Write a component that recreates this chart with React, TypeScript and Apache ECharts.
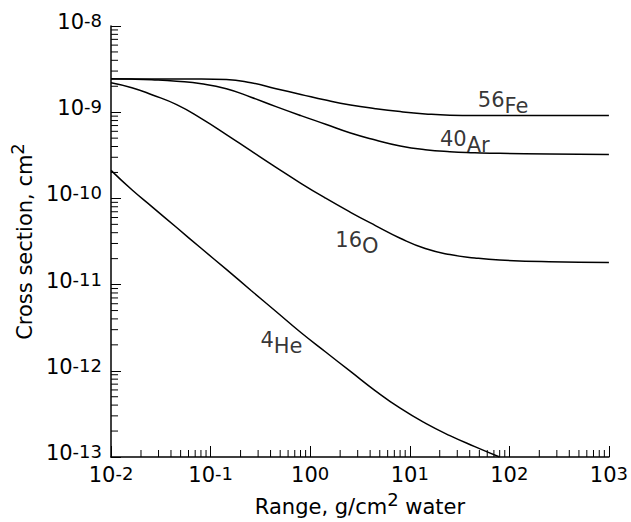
import React, { useEffect, useRef } from 'react';
import * as echarts from 'echarts';

// ---- data ----
// range sample points, g/cm2 water
const rangeGrid = [0.01, 0.0162, 0.0257, 0.0456, 0.0809, 0.144, 0.255, 0.454, 0.806, 1.43, 2.54, 4.52, 8.02, 14.3, 25.3, 45.0, 79.8, 252, 1000];

// cross sections, cm2
const sigmaFe = [2.423e-9, 2.423e-9, 2.423e-9, 2.423e-9, 2.423e-9, 2.4e-9, 2.197e-9, 1.873e-9, 1.609e-9, 1.383e-9, 1.214e-9, 1.1e-9, 1.016e-9, 9.56e-10, 9.21e-10, 9.13e-10, 9.13e-10, 9.13e-10, 9.13e-10];
const sigmaAr = [2.443e-9, 2.423e-9, 2.378e-9, 2.285e-9, 2.139e-9, 1.873e-9, 1.494e-9, 1.161e-9, 9.13e-10, 7.25e-10, 5.74e-10, 4.76e-10, 4.06e-10, 3.67e-10, 3.48e-10, 3.39e-10, 3.33e-10, 3.28e-10, 3.24e-10];
const sigmaO = [2.197e-9, 1.923e-9, 1.596e-9, 1.224e-9, 8.43e-10, 5.51e-10, 3.555e-10, 2.293e-10, 1.498e-10, 1.005e-10, 6.9e-11, 4.84e-11, 3.45e-11, 2.62e-11, 2.23e-11, 2.04e-11, 1.93e-11, 1.84e-11, 1.8e-11];

const rangeHe = [0.01, 0.0162, 0.0257, 0.0456, 0.0809, 0.144, 0.255, 0.454, 0.806, 1.43, 2.54, 4.52, 8.02, 14.3, 25.3, 45.0, 79.8];
const sigmaHe = [2.116e-10, 1.26e-10, 8.04e-11, 4.59e-11, 2.62e-11, 1.5e-11, 8.55e-12, 4.88e-12, 2.78e-12, 1.652e-12, 9.84e-13, 5.86e-13, 3.68e-13, 2.47e-13, 1.77e-13, 1.32e-13, 1.0e-13];

// curve labels (mass number, element, position in data space)
const labelMass = ['56', '40', '16', '4'];
const labelElem = ['Fe', 'Ar', 'O', 'He'];
const labelRange = [86.5, 35.7, 2.95, 0.515];
const labelSigma = [1.29e-9, 4.52e-10, 3.04e-11, 2.1e-12];

// axes
const X_MIN = 0.01;
const X_MAX = 1000;
const Y_MIN = 1e-13;
const Y_MAX = 1e-8;
const xDecades = [-2, -1, 0, 1, 2];
const yDecades = [-13, -12, -11, -10, -9];
const minorMultipliers = [2, 3, 4, 5, 6, 7, 8, 9];

const FONT = 'DejaVu Sans';

const tickRich = {
  b: { fontSize: 21, lineHeight: 21, fontFamily: FONT, color: '#000' },
  s: { fontSize: 18, lineHeight: 15, verticalAlign: 'top', fontFamily: FONT, color: '#000' },
};
const nameRich = {
  b: { fontSize: 21, lineHeight: 27, verticalAlign: 'bottom', fontFamily: FONT, color: '#000' },
  s: { fontSize: 18, lineHeight: 13, verticalAlign: 'top', fontFamily: FONT, color: '#000' },
};
const curveRich = {
  b: { fontSize: 21, lineHeight: 27, verticalAlign: 'bottom', fontFamily: FONT, color: '#000' },
  s: { fontSize: 21, lineHeight: 15, verticalAlign: 'top', fontFamily: FONT, color: '#000' },
};

const powLabel = (v: number) => {
  const e = Math.round(Math.log10(v));
  return `{b|10}{s|${e}}`;
};

export default function App() {
  const ref = useRef<HTMLDivElement>(null);

  useEffect(() => {
    if (!ref.current) return;
    const chart = echarts.init(ref.current, undefined, { renderer: 'svg' });

    // minor tick positions: [xValue, yValue, axisFlag] (0 = x axis, 1 = y axis)
    const minorTicks: number[][] = [];
    xDecades.forEach((d) => minorMultipliers.forEach((m) => minorTicks.push([m * Math.pow(10, d), 1e-10, 0])));
    yDecades.forEach((d) => minorMultipliers.forEach((m) => minorTicks.push([1, m * Math.pow(10, d), 1])));

    const lineSeries = (name: string, xs: number[], ys: number[]) => ({
      name,
      type: 'line',
      data: xs.map((x, i) => [x, ys[i]]),
      showSymbol: false,
      symbol: 'none',
      smooth: 0.5,
      lineStyle: { color: '#000', width: 1.5 },
      clip: true,
      silent: true,
      z: 2,
    });

    const option: any = {
      animation: false,
      backgroundColor: '#fff',
      grid: { left: 109, right: 21, top: 26, bottom: 63, containLabel: false },
      xAxis: {
        type: 'log',
        logBase: 10,
        min: X_MIN,
        max: X_MAX,
        name: '{b|Range, g/cm}{s|2}{b| water}',
        nameLocation: 'middle',
        nameGap: 33,
        nameTextStyle: { rich: nameRich, fontFamily: FONT, color: '#000' },
        axisLine: { show: true, onZero: false, lineStyle: { color: '#000', width: 1.5 } },
        axisTick: { show: true, inside: true, length: 11, lineStyle: { color: '#000', width: 1 } },
        axisLabel: {
          show: true,
          margin: 7,
          showMinLabel: true,
          showMaxLabel: true,
          formatter: powLabel,
          rich: tickRich,
          fontFamily: FONT,
          color: '#000',
        },
        splitLine: { show: false },
        minorTick: { show: false },
      },
      yAxis: {
        type: 'log',
        logBase: 10,
        min: Y_MIN,
        max: Y_MAX,
        name: '{b|Cross section, cm}{s|2}',
        nameLocation: 'middle',
        nameRotate: 90,
        nameGap: 76,
        nameTextStyle: { rich: nameRich, fontFamily: FONT, color: '#000' },
        axisLine: { show: true, onZero: false, lineStyle: { color: '#000', width: 1.5 } },
        axisTick: { show: true, inside: true, length: 10, lineStyle: { color: '#000', width: 1 } },
        axisLabel: {
          show: true,
          margin: 9,
          padding: [0, 0, 8, 0],
          showMinLabel: true,
          showMaxLabel: true,
          formatter: powLabel,
          rich: tickRich,
          fontFamily: FONT,
          color: '#000',
        },
        splitLine: { show: false },
        minorTick: { show: false },
      },
      series: [
        lineSeries('Fe', rangeGrid, sigmaFe),
        lineSeries('Ar', rangeGrid, sigmaAr),
        lineSeries('O', rangeGrid, sigmaO),
        lineSeries('He', rangeHe, sigmaHe),
        {
          name: 'minorTicks',
          type: 'custom',
          data: minorTicks,
          silent: true,
          clip: false,
          z: 3,
          renderItem: (params: any, api: any) => {
            const cs = params.coordSys;
            const pt = api.coord([api.value(0), api.value(1)]);
            if (api.value(2) === 0) {
              const yb = cs.y + cs.height;
              return {
                type: 'line',
                shape: { x1: pt[0], y1: yb, x2: pt[0], y2: yb - 7 },
                style: { stroke: '#000', lineWidth: 1 },
              };
            }
            const xl = cs.x;
            return {
              type: 'line',
              shape: { x1: xl, y1: pt[1], x2: xl + 7, y2: pt[1] },
              style: { stroke: '#000', lineWidth: 1 },
            };
          },
        },
        {
          name: 'curveLabels',
          type: 'scatter',
          symbolSize: 0,
          silent: true,
          z: 4,
          data: labelRange.map((x, i) => ({
            value: [x, labelSigma[i]],
            label: {
              show: true,
              position: 'inside',
              formatter: `{s|${labelMass[i]}}{b|${labelElem[i]}}`,
              rich: curveRich,
            },
          })),
        },
      ],
    };

    chart.setOption(option);
    return () => chart.dispose();
  }, []);

  return (
    <div
      ref={ref}
      style={{ position: 'absolute', left: 0, top: 0, width: 631, height: 522 }}
    />
  );
}
